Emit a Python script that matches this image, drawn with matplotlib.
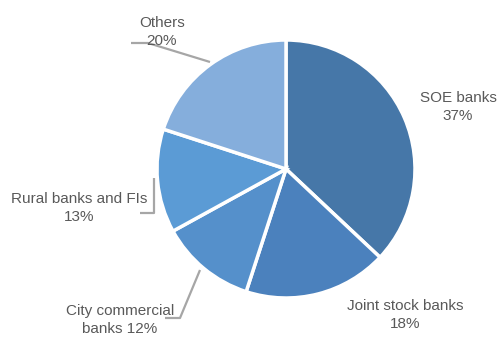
import matplotlib
matplotlib.use("Agg")
import matplotlib.pyplot as plt

# share of banking assets by bank type
categories = ["SOE banks", "Joint stock banks", "City commercial\nbanks", "Rural banks and FIs", "Others"]
shares = [37, 18, 12, 13, 20]
colors = ["#4677A8", "#4B81BD", "#5590CB", "#5B9BD5", "#85AEDC"]

plt.rcParams["font.family"] = ["Liberation Sans Narrow", "Liberation Sans", "DejaVu Sans"]

W, H = 501, 340
fig = plt.figure(figsize=(W / 100, H / 100), dpi=100)
ax = fig.add_axes([0, 0, 1, 1])

cx, cy, r = 286, H - 169, 129
ax.pie(shares, colors=colors, startangle=90, counterclock=False,
       center=(cx, cy), radius=r, frame=True,
       wedgeprops=dict(edgecolor="white", linewidth=2.5))
ax.set_xlim(0, W)
ax.set_ylim(0, H)
ax.set_aspect("equal")
ax.axis("off")

txt = dict(color="#595959", fontsize=11, ha="center", va="center", linespacing=1.3)
line = dict(color="#A6A6A6", lw=1.6, solid_capstyle="butt")

# label placement (pixel coords, y measured from top)
ax.text(458, H - 107, f"{categories[0]}\n{shares[0]}%", **txt)
ax.text(405, H - 315, f"{categories[1]}\n{shares[1]}%", **txt)
ax.text(120, H - 320, f"City commercial\nbanks {shares[2]}%", **txt)
ax.text(79, H - 208, f"{categories[3]}\n{shares[3]}%", **txt)
ax.text(162, H - 32, f"{categories[4]}\n{shares[4]}%", **txt)

# leader lines
ax.plot([131, 148, 210], [H - 43, H - 43, H - 62], **line)
ax.plot([140, 154, 154], [H - 213, H - 213, H - 178], **line)
ax.plot([165, 180, 200], [H - 318, H - 318, H - 270], **line)

fig.savefig("out.png", dpi=100)
